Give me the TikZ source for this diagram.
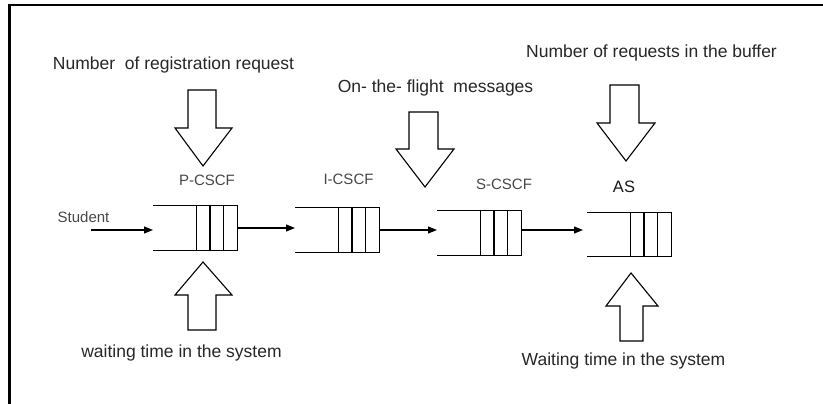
\documentclass[tikz,border=0pt]{standalone}
\usepackage{fontspec}
\setmainfont{Liberation Sans}
\usetikzlibrary{calc,arrows.meta}

\begin{document}
\begin{tikzpicture}[x=1pt,y=-1pt,
  caption/.style={font=\fontsize{17.5}{20}\selectfont, text=black!85, inner sep=0pt},
  tag/.style={font=\fontsize{15}{18}\selectfont, text=black!72, inner sep=0pt},
  queue/.style={rectangle, inner sep=0pt, minimum width=84pt, minimum height=44pt, anchor=west},
  flow/.style={line width=1.2pt, -{Triangle[length=9pt,width=7pt]}},
  qline/.style={line width=1.1pt},
  blockarrow/.style={line width=1.1pt, line join=miter, fill=white}]

% canvas and frame
\useasboundingbox (0,0) rectangle (823,404);
\draw[line width=2.2pt] (9.5,404) -- (9.5,5) -- (823,5);

% queues
\node[queue] (q1) at (153,228) {};
\node[queue] (q2) at (295,230) {};
\node[queue] (q3) at (437,233) {};
\node[queue] (q4) at (587,234.5) {};

\foreach \q in {q1,q2,q3,q4}{
  \draw[qline] (\q.north west) -- (\q.north east) -- (\q.south east) -- (\q.south west);
  \foreach \f in {0.52,0.675,0.835}
    \draw[qline] ($(\q.north west)!\f!(\q.north east)$) -- ($(\q.south west)!\f!(\q.south east)$);
}

% queue labels
\node[tag] (lp) at (207,180) {P-CSCF};
\node[tag] (li) at (348.5,179) {I-CSCF};
\node[tag] (ls) at (504,184) {S-CSCF};
\node[tag, font=\fontsize{16.5}{19}\selectfont, text=black!90] (la) at (624,187) {AS};
\node[tag] (lst) at (83.5,217) {Student};

% message flow
\coordinate (src) at (91,230);
\draw[flow] (src) -- (src -| q1.west);
\draw[flow] (q1.east) -- (q1.east -| q2.west);
\draw[flow] (q2.east) -- (q2.east -| q3.west);
\draw[flow] ($(q3.east)+(0,-3)$) -- ($(q3.east -| q4.west)+(-4,-3)$);

% block arrows
\draw[blockarrow] (188,90) -- (216,90) -- (216,128) -- (232,128) -- (203,166) -- (175,128) -- (188,128) -- cycle;
\draw[blockarrow] (188,330) -- (216,330) -- (216,295) -- (232,295) -- (203,262) -- (175,295) -- (188,295) -- cycle;
\draw[blockarrow] (409,112) -- (438,112) -- (438,149) -- (454,149) -- (425,187) -- (396,149) -- (409,149) -- cycle;
\draw[blockarrow] (610,85) -- (639,85) -- (639,123) -- (655,123) -- (626,161) -- (597,123) -- (610,123) -- cycle;
\draw[blockarrow] (620,341) -- (643,341) -- (643,306) -- (658,306) -- (631,273) -- (606,306) -- (620,306) -- cycle;

% captions
\node[caption] (c1) at (173.5,65) {Number\ \ of registration request};
\node[caption] (c2) at (435.5,88) {On- the- flight\ \ messages};
\node[caption] (c3) at (651.5,53) {Number of requests in the buffer};
\node[caption] (c4) at (181.5,353) {waiting time in the system};
\node[caption] (c5) at (623.5,361) {Waiting time in the system};
\end{tikzpicture}
\end{document}
